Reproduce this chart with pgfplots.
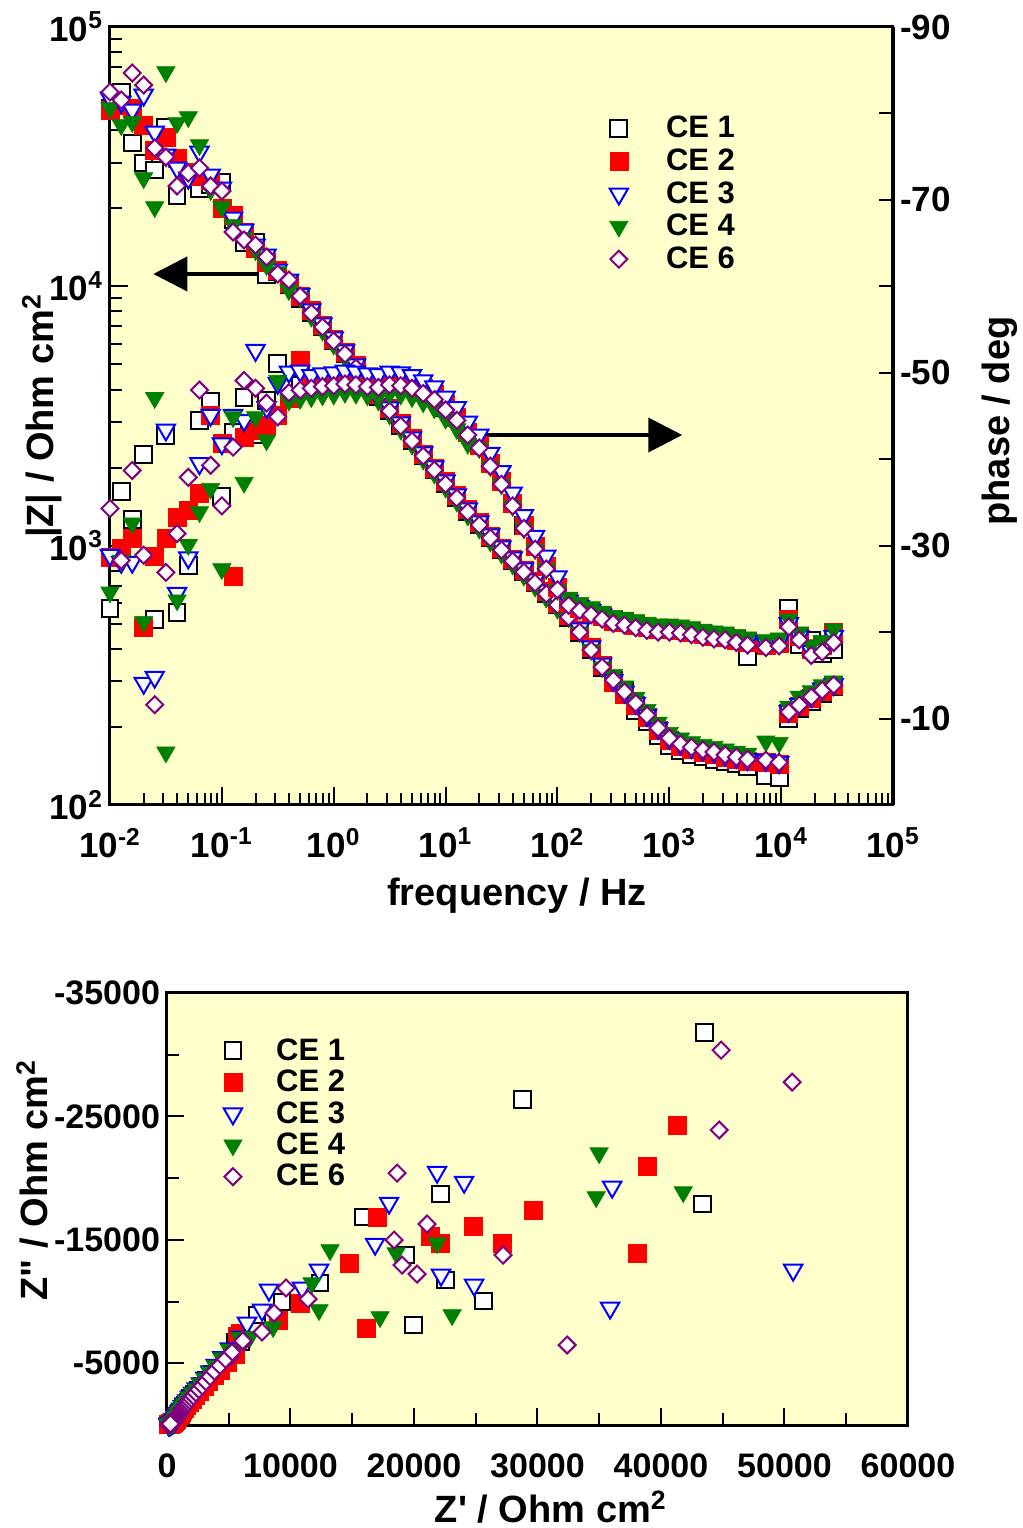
\documentclass[border=0pt]{standalone}
\usepackage{fontspec}
\setmainfont{Liberation Sans}
\usepackage{pgfplots}
\usepackage{pgfplotstable}
\pgfplotsset{compat=1.18}
\usetikzlibrary{arrows.meta}
\definecolor{bgy}{RGB}{255,255,204}
\definecolor{cegreen}{RGB}{0,128,0}
\definecolor{cepurple}{RGB}{128,0,128}
\newcommand\sq{\XeTeXglyph\XeTeXcharglyph"0027\relax}
\newcommand\dq{\XeTeXglyph\XeTeXcharglyph"0022\relax}
\pgfplotsset{
  ce1/.style={only marks, mark=square*, mark size=4.2pt, mark options={draw=black, fill=white, line width=1pt}},
  ce2/.style={only marks, mark=square*, mark size=4.5pt, mark options={draw=red, fill=red, line width=0.3pt}},
  ce3/.style={only marks, mark=triangle*, mark size=5.3pt, mark options={rotate=180, draw=blue, fill=white, line width=1pt}},
  ce4/.style={only marks, mark=triangle*, mark size=5.3pt, mark options={rotate=180, draw=cegreen, fill=cegreen, line width=0.3pt}},
  ce6/.style={only marks, mark=square*, mark size=3pt, mark options={rotate=45, draw=cepurple, fill=white, line width=1pt}},
}
% Bode data: f [Hz], |Z| [Ohm cm2], -phase [deg]
\pgfplotstableread{
f Z1 P1 Z2 P2 Z3 P3 Z4 P4 Z6 P6
0.01 48730 22.7 47870 28.7 53240 28.9 48730 24.6 56160 34.3
0.0126 56160 36.3 50050 29.7 51390 28.1 41890 28.3 52310 28.3
0.0158 35700 33.0 48730 30.8 47870 28.1 43020 32.6 66460 38.7
0.02 29900 40.5 41890 20.5 54680 14.1 26160 21.2 59740 28.9
0.0251 28090 21.5 33550 28.8 39360 14.8 20220 47.1 34150 11.6
0.0316 41150 42.7 37650 30.8 32090 43.4 67050 6.1 31520 26.9
0.0398 22300 22.3 31250 33.3 28600 24.5 42640 23.7 24370 31.4
0.0501 26870 27.7 27590 34.1 26160 28.6 44970 30.1 27350 37.9
0.0631 23730 44.5 26630 36.0 32960 39.5 35070 33.9 28600 48.0
0.0794 24590 46.7 25700 45.1 26870 45.1 23520 36.6 24370 39.3
0.1 25250 35.7 20040 41.8 23940 41.8 20220 27.3 23310 34.6
0.126 18020 43.1 18840 26.4 18340 45.1 17240 44.9 16200 41.4
0.158 14690 47.1 16200 42.5 16490 44.5 15360 37.3 15090 49.1
0.2 14820 42.8 14050 43.4 14430 52.6 13800 44.9 14430 48.2
0.251 11060 46.8 12410 43.9 13210 46.0 12080 42.2 12980 46.5
0.316 11360 51.1 11560 45.1 11560 48.8 11360 49.1 11150 44.9
0.398 10120 48.6 10300 47.0 10580 50.1 9680 46.8 10580 47.7
0.501 9000 48.5 9175 51.4 9300 50.2 9050 47.0 9175 48.0
0.631 7890 48.5 8050 48.8 8130 49.7 7650 47.2 7890 48.2
0.794 6966 48.7 7105 49.0 7175 49.9 6757 47.4 6966 48.4
1 6152 48.8 6275 49.1 6337 50.0 5967 47.5 6152 48.5
1.26 5481 49.0 5591 49.3 5645 50.2 5317 47.7 5481 48.7
1.58 4841 48.9 4938 49.2 4986 50.1 4696 47.6 4841 48.6
2 4275 48.7 4361 49.0 4403 49.9 4147 47.4 4275 48.4
2.51 3743 48.6 3818 48.9 3855 49.8 3631 47.3 3743 48.3
3.16 3305 48.9 3371 49.2 3404 50.1 3206 47.6 3305 48.6
3.98 2893 48.8 2951 49.1 2980 50.0 2806 47.5 2893 48.5
5.01 2532 48.5 2583 48.8 2608 49.7 2456 47.2 2532 48.2
6.31 2216 47.9 2260 48.2 2282 49.1 2150 46.6 2216 47.6
7.94 1957 47.2 1996 47.5 2016 48.4 1898 45.9 1957 46.9
10 1728 46.0 1763 46.3 1780 47.2 1676 44.7 1728 45.7
12.6 1526 44.8 1557 44.8 1572 46.0 1480 43.5 1526 44.5
15.8 1348 43.1 1375 43.1 1388 44.3 1308 41.8 1348 42.8
20 1201 41.6 1225 41.6 1237 42.8 1165 41.3 1201 41.3
25.1 1070 39.5 1091 39.5 1102 40.7 1038 39.2 1070 39.2
31.6 962 37.4 981 37.4 991 38.6 933 37.1 962 37.1
39.8 872 34.9 889 34.9 898 36.1 846 34.6 872 34.6
50.1 791 32.3 807 32.3 815 33.5 767 32.0 791 32.0
63.1 718 29.9 732 29.9 740 31.1 696 29.6 718 29.6
79.4 651 27.6 664 27.6 671 28.8 631 27.3 651 27.3
100 590 25.2 602 25.2 608 26.4 572 24.9 590 24.9
126 530 23.4 541 23.4 546 23.6 530 24.0 530 23.1
158 464 22.8 473 22.8 478 23.0 464 23.4 464 22.5
200 396 22.3 404 22.3 408 22.5 396 22.9 396 22.0
251 340 21.8 347 21.8 350 22.0 340 22.4 340 21.5
316 303 21.3 297 21.3 303 21.5 318 21.9 303 21.0
398 273 21.1 268 21.1 273 21.3 287 21.7 273 20.8
501 232 20.8 242 20.8 247 21.0 259 21.4 247 20.5
631 209 20.5 218 20.5 222 20.7 233 21.1 222 20.2
794 186 20.3 194 20.3 198 20.5 208 20.9 198 20.0
1000 170 20.3 177 20.3 181 20.5 190 20.9 181 20.0
1260 162 20.2 169 20.2 172 20.4 181 20.8 172 19.9
1580 157 20.0 164 20.0 167 20.2 175 20.6 167 19.7
2000 153 19.7 160 19.7 163 19.9 171 20.3 163 19.4
2510 150 19.5 157 19.5 160 19.7 168 20.1 160 19.2
3160 147 19.4 153 19.4 156 19.6 164 20.0 156 19.1
3980 144 19.1 150 19.1 153 19.3 161 19.7 153 18.8
5010 141 17.2 147 18.8 150 19.0 158 19.4 150 18.5
7300 130 18.5 146 18.5 149 18.7 176 19.1 149 18.2
9600 127 18.7 143 18.7 146 18.9 174 19.3 146 18.4
11700 215 22.8 225 21.5 230 21.0 240 21.5 228 20.6
14500 235 18.5 240 19.5 245 19.5 262 20.0 243 19.1
18600 250 19.0 258 18.0 262 17.8 275 18.5 261 17.3
23300 270 17.5 275 18.5 280 18.0 290 19.0 277 17.7
29500 285 18.0 290 20.0 292 19.5 300 20.3 290 18.8
}\bode
% Nyquist data: Z' and -Z'' [Ohm cm2]
\pgfplotstableread{
re im
43500 31830
28755 26400
22120 18710
15880 16850
19280 13770
22520 11750
25600 10045
19930 8100
43340 17900
12390 11500
9315 9960
7290 8910
5510 6720
5963 6741
5310 5820
4670 5160
4115 4560
3650 4075
3230 3595
2865 3165
2515 2765
2205 2455
1935 2145
1705 1870
1510 1620
1350 1415
1220 1225
1100 1060
1000 905
}\nyqA
\pgfplotstableread{
re im
41310 24300
38880 20980
29650 17415
24790 16120
27135 14740
22110 14740
21300 15310
38070 13930
17010 16850
14740 13120
16120 7860
10770 9880
8990 8500
5910 7450
5724 7170
5520 5705
4855 5055
4280 4470
3800 3995
3360 3520
2980 3100
2615 2710
2295 2405
2015 2100
1770 1830
1570 1590
1405 1385
1265 1200
1140 1040
1040 890
}\nyqB
\pgfplotstableread{
re im
21870 20490
24060 19680
17980 17980
16850 14660
22190 12150
24870 11340
36045 19280
35880 9480
50700 12555
12310 12555
8260 10935
10935 11100
7700 9315
6480 8260
5953 7145
5100 6175
4485 5470
3955 4840
3510 4325
3105 3815
2755 3355
2415 2935
2120 2605
1860 2275
1635 1980
1450 1720
1295 1500
1170 1300
1055 1125
960 960
}\nyqC
\pgfplotstableread{
re im
13200 14175
11745 11500
12310 9315
18550 13930
21870 14740
17250 8750
23085 8910
34990 22030
34750 18470
41800 18870
8590 7940
6720 7130
5900 7090
5050 6115
4440 5415
3915 4790
3470 4280
3075 3775
2725 3325
2390 2905
2100 2580
1840 2255
1620 1965
1435 1700
1285 1485
1160 1285
1045 1110
950 950
}\nyqD
\pgfplotstableread{
re im
44870 30375
50625 27780
44710 23900
18630 20410
21060 16280
18390 14985
19035 12960
20250 12230
27215 13770
32400 6480
9640 11100
11420 10200
8670 9070
7695 7530
6160 6720
5100 5510
6139 6818
5259 5882
4625 5209
4076 4608
3617 4118
3201 3631
2838 3197
2490 2795
2186 2479
1917 2167
1688 1888
1494 1637
1337 1429
1207 1237
1088 1070
989 916
}\nyqE
\pgfplotstableread{
re im
902 793
829 676
767 580
718 495
671 419
625 355
579 299
535 248
488 208
429 178
367 148
316 124
283 109
254 97
231 87
208 77
186 68
170 62
162 58
157 56
154 54
151 53
147 51
145 49
142 48
141 47
139 46
213 80
230 80
249 78
264 84
274 93
}\nyqHF
\begin{document}
\begin{tikzpicture}
\useasboundingbox (0,0) rectangle (511.5pt,764pt);
% ---------------- Bode |Z| ----------------
\begin{axis}[
  at={(55pt,361.5pt)}, anchor=south west,
  scale only axis, width=391.5pt, height=389pt,
  xmode=log, ymode=log, xmin=1e-2, xmax=1e5, ymin=1e2, ymax=1e5,
  clip=false,
  axis background/.style={fill=bgy},
  axis line style={line width=1.5pt},
  xtick={0.01,0.1,1,10,100,1000,10000,100000},
  xticklabels={10\textsuperscript{-2},10\textsuperscript{-1},10\textsuperscript{0},10\textsuperscript{1},10\textsuperscript{2},10\textsuperscript{3},10\textsuperscript{4},10\textsuperscript{5}},
  minor xtick={0.02,0.03,0.04,0.05,0.06,0.07,0.08,0.09,0.2,0.3,0.4,0.5,0.6,0.7,0.8,0.9,2,3,4,5,6,7,8,9,20,30,40,50,60,70,80,90,200,300,400,500,600,700,800,900,2000,3000,4000,5000,6000,7000,8000,9000,20000,30000,40000,50000,60000,70000,80000,90000},
  ytick={100,1000,10000,100000},
  yticklabels={10\textsuperscript{2},10\textsuperscript{3},10\textsuperscript{4},10\textsuperscript{5}},
  minor ytick={200,300,400,500,600,700,800,900,2000,3000,4000,5000,6000,7000,8000,9000,20000,30000,40000,50000,60000,70000,80000,90000},
  xtick pos=bottom, ytick pos=left, tick align=inside,
  major tick length=9pt, minor tick length=6pt,
  every tick/.style={black, line width=1pt},
  tick label style={font=\fontsize{17.5}{19}\selectfont\bfseries},
  xticklabel style={yshift=-8pt},
  xlabel={frequency / Hz},
  ylabel={|Z| / Ohm cm\textsuperscript{2}},
  label style={font=\fontsize{19}{22}\selectfont\bfseries},
  xlabel style={at={(axis description cs:0.52,-0.117)}, anchor=center},
  ylabel style={at={(axis description cs:-0.087,0.5)}, anchor=center},
  legend style={at={(0.630,0.896)}, anchor=north west, draw=none, fill=none,
    font=\fontsize{15.5}{17}\selectfont\bfseries,
    /tikz/every odd column/.append style={column sep=17pt}},
  legend cell align=left,
]
\draw[line width=2pt, -{Triangle[length=17pt,width=17pt]}] (axis cs:0.242,11160) -- (axis cs:0.0244,11160);
\addplot[ce1] table[x=f,y=Z1]{\bode}; \addlegendentry{CE 1}
\addplot[ce2] table[x=f,y=Z2]{\bode}; \addlegendentry{CE 2}
\addplot[ce3] table[x=f,y=Z3]{\bode}; \addlegendentry{CE 3}
\addplot[ce4] table[x=f,y=Z4]{\bode}; \addlegendentry{CE 4}
\addplot[ce6] table[x=f,y=Z6]{\bode}; \addlegendentry{CE 6}
\end{axis}
% ---------------- Bode phase ----------------
\begin{axis}[
  at={(55pt,361.5pt)}, anchor=south west,
  scale only axis, width=391.5pt, height=389pt,
  xmode=log, xmin=1e-2, xmax=1e5, ymin=0, ymax=90,
  clip=false,
  axis x line=none, axis y line*=right,
  axis line style={line width=1.5pt},
  ytick={10,20,30,40,50,60,70,80,90},
  yticklabels={-10,,-30,,-50,,-70,,-90},
  tick align=inside,
  major tick length=7pt,
  every tick/.style={black, line width=1pt},
  tick label style={font=\fontsize{17.5}{19}\selectfont\bfseries},
  ylabel={phase / deg},
  label style={font=\fontsize{19}{22}\selectfont\bfseries},
  ylabel style={at={(axis description cs:1.1367,0.4936)}, anchor=center},
]
\draw[line width=2pt, -{Triangle[length=17pt,width=17pt]}] (axis cs:23.2,42.8) -- (axis cs:1306,42.8);
\addplot[ce1] table[x=f,y=P1]{\bode};
\addplot[ce2] table[x=f,y=P2]{\bode};
\addplot[ce3] table[x=f,y=P3]{\bode};
\addplot[ce4] table[x=f,y=P4]{\bode};
\addplot[ce6] table[x=f,y=P6]{\bode};
\end{axis}
% ---------------- Nyquist ----------------
\begin{axis}[
  at={(83.5pt,51.5pt)}, anchor=south west,
  scale only axis, width=370.5pt, height=216pt,
  xmin=0, xmax=60000, ymin=0, ymax=35000,
  clip=false, scaled ticks=false,
  axis background/.style={fill=bgy},
  axis line style={line width=1.5pt},
  xtick={0,10000,20000,30000,40000,50000,60000},
  xticklabels={0,10000,20000,30000,40000,50000,60000},
  minor xtick={5000,15000,25000,35000,45000,55000},
  ytick={5000,15000,25000,35000},
  yticklabels={-5000,-15000,-25000,-35000},
  minor ytick={10000,20000,30000},
  xtick pos=bottom, ytick pos=left, tick align=inside,
  major tick length=8.5pt, minor tick length=6pt,
  every tick/.style={black, line width=1pt},
  tick label style={font=\fontsize{17}{19}\selectfont\bfseries},
  xticklabel style={yshift=-11pt},
  xlabel={Z\sq{} / Ohm cm\textsuperscript{2}},
  ylabel={Z\dq{} / Ohm cm\textsuperscript{2}},
  label style={font=\fontsize{19}{22}\selectfont\bfseries, inner sep=0pt},
  xlabel style={at={(axis description cs:0.518,-0.19)}, anchor=center},
  ylabel style={at={(axis description cs:-0.182,0.567)}, anchor=center},
  legend style={at={(0.068,0.914)}, anchor=north west, draw=none, fill=none,
    font=\fontsize{15.5}{17}\selectfont\bfseries, row sep=-0.6pt,
    /tikz/every odd column/.append style={column sep=15pt}},
  legend cell align=left,
]
\addplot[ce1] table[x=re,y=im]{\nyqA}; \addlegendentry{CE 1}
\addplot[ce1,forget plot] table[x=re,y=im]{\nyqHF};
\addplot[ce2] table[x=re,y=im]{\nyqB}; \addlegendentry{CE 2}
\addplot[ce2,forget plot] table[x=re,y=im]{\nyqHF};
\addplot[ce3] table[x=re,y=im]{\nyqC}; \addlegendentry{CE 3}
\addplot[ce3,forget plot] table[x=re,y=im]{\nyqHF};
\addplot[ce4] table[x=re,y=im]{\nyqD}; \addlegendentry{CE 4}
\addplot[ce4,forget plot] table[x=re,y=im]{\nyqHF};
\addplot[ce6] table[x=re,y=im]{\nyqE}; \addlegendentry{CE 6}
\addplot[ce6,forget plot] table[x=re,y=im]{\nyqHF};
\end{axis}
\end{tikzpicture}
\end{document}
